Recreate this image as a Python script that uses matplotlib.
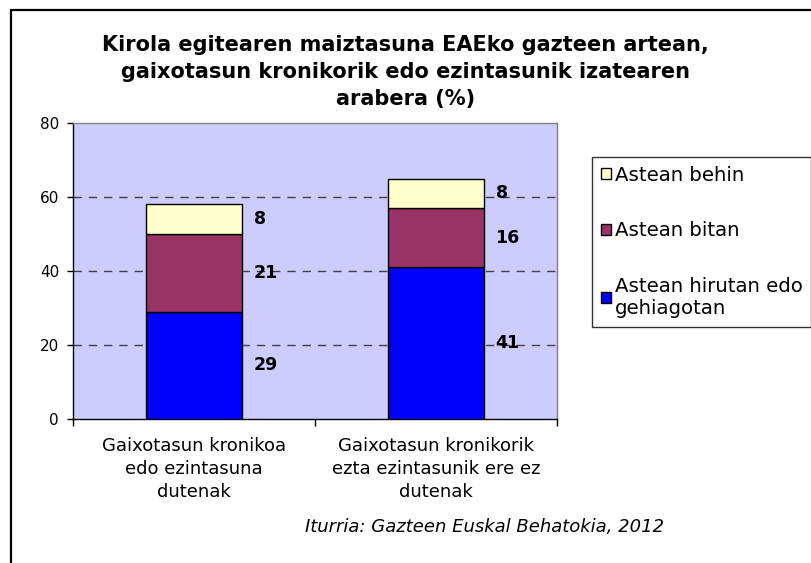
import matplotlib
matplotlib.use("Agg")
import matplotlib.pyplot as plt
from matplotlib.patches import Rectangle, Patch
import numpy as np

# ---- data ----
categories = ["Gaixotasun kronikoa\nedo ezintasuna\ndutenak",
              "Gaixotasun kronikorik\nezta ezintasunik ere ez\ndutenak"]
series_names = ["Astean hirutan edo\ngehiagotan", "Astean bitan", "Astean behin"]
hirutan = [29, 41]
bitan = [21, 16]
behin = [8, 8]
series_values = [hirutan, bitan, behin]
series_colors = ["#0000FF", "#993366", "#FFFFCC"]
yticks = [0, 20, 40, 60, 80]
title = ("Kirola egitearen maiztasuna EAEko gazteen artean,\n"
         "gaixotasun kronikorik edo ezintasunik izatearen\n"
         "arabera (%)")
source = "Iturria: Gazteen Euskal Behatokia, 2012"

W, H = 811, 563
fig = plt.figure(figsize=(W / 100, H / 100), dpi=100)
fig.patch.set_facecolor("white")

def fx(px):
    return px / W

def fy(py):
    return 1 - py / H

# outer chart frame (cut off at right / bottom)
fig.patches.append(Rectangle((fx(11), -0.2), 1.5, fy(10) + 0.2, transform=fig.transFigure,
                             fill=False, edgecolor="black", linewidth=1.6, clip_on=False))

ax = fig.add_axes([fx(73), fy(419), fx(557) - fx(73), fy(123) - fy(419)])
ax.set_facecolor("#CCCCFF")

x = np.arange(len(categories))
bar_w = 0.40
bottom = np.zeros(len(categories))
for vals, col, name in zip(series_values, series_colors, series_names):
    ax.bar(x, vals, bar_w, bottom=bottom, color=col, edgecolor="black",
           linewidth=1.0, label=name, zorder=3)
    for xi, v, b0 in zip(x, vals, bottom):
        ax.annotate(f"{v}", xy=(xi + bar_w / 2, b0 + v / 2), xytext=(8, 0),
                    textcoords="offset points", ha="left", va="center",
                    fontsize=12.5, fontweight="bold", color="black", zorder=4)
    bottom = bottom + np.array(vals)

ax.set_xlim(-0.5, len(categories) - 0.5)
ax.set_ylim(0, 80)
ax.set_yticks(yticks)
ax.set_yticklabels([str(t) for t in yticks], fontsize=11)
ax.tick_params(axis="y", direction="out", length=4, width=1, pad=6, color="black")

ax.set_xticks(x)
ax.set_xticklabels(categories, fontsize=13, linespacing=1.35)
ax.tick_params(axis="x", which="major", length=0, pad=13)
ax.set_xticks(np.arange(-0.5, len(categories), 1.0), minor=True)
ax.tick_params(axis="x", which="minor", direction="out", length=5, width=1, color="black")

for yv in yticks[1:-1]:
    ax.axhline(yv, color="#404040", linestyle=(0, (6, 5)), linewidth=1.0, zorder=1)

ax.spines["left"].set_color("black")
ax.spines["bottom"].set_color("black")
ax.spines["top"].set_color("#808080")
ax.spines["right"].set_color("#808080")
for s in ax.spines.values():
    s.set_linewidth(1.0)

# legend (reverse order: top = Astean behin)
handles = [Patch(facecolor=c, edgecolor="black", linewidth=1.0) for c in series_colors][::-1]
labels = series_names[::-1]
leg = fig.legend(handles, labels, loc="upper left",
                 bbox_to_anchor=(fx(592), fy(157)), bbox_transform=fig.transFigure,
                 fontsize=14.2, frameon=True, fancybox=False, shadow=False,
                 borderpad=0.45, labelspacing=1.85, handlelength=0.5, handleheight=0.5,
                 handletextpad=0.2, borderaxespad=0)
leg.get_frame().set_edgecolor("black")
leg.get_frame().set_linewidth(1.0)
leg.get_frame().set_facecolor("white")

fig.text(0.5, fy(72), title, ha="center", va="center", fontsize=15,
         fontweight="bold", linespacing=1.42)
fig.text(fx(485), fy(527), source, ha="center", va="center", fontsize=13,
         style="italic")

fig.savefig("out.png", dpi=100)
